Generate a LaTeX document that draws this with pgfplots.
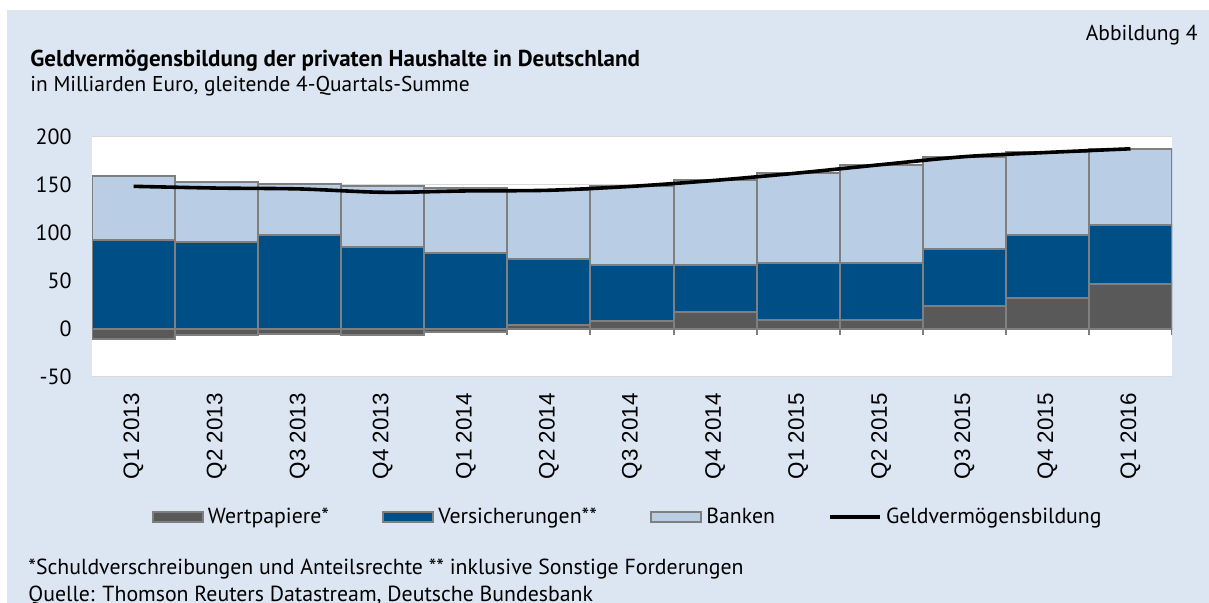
\documentclass[border=0pt]{standalone}
\usepackage{fontspec}
\setmainfont{PT Sans}
\newfontfamily\arialfont{Liberation Sans}
\usepackage{pgfplots}
\usepackage{pgfplotstable}
\pgfplotsset{compat=1.18}

\definecolor{bgblue}{HTML}{DCE6F2}
\definecolor{wpgray}{HTML}{595959}
\definecolor{versblue}{HTML}{004E86}
\definecolor{bankblue}{HTML}{B9CDE5}
\definecolor{edgegray}{HTML}{7F7F7F}
\definecolor{gridgray}{HTML}{D9D9D9}

% gleitende 4-Quartals-Summe, Mrd Euro
\pgfplotstableread{
q  W     V     B     G
0  -10.3 93.2  65.7  148.6
1  -6.2  91.0  62.0  146.8
2  -4.8  97.6  53.1  145.9
3  -6.2  85.0  63.6  142.4
4  -2.7  79.5  67.0  143.8
5  4.1   69.2  71.2  144.5
6  8.2   58.9  81.5  148.6
7  17.8  49.3  87.7  154.8
8  9.4   59.8  93.3  162.5
9  9.2   60.0  102.0 171.2
10 24.0  59.6  95.9  179.5
11 32.2  65.7  86.0  183.9
12 46.6  61.3  79.8  187.7
}\gvb

\begin{document}
\begin{tikzpicture}
\useasboundingbox (0,0) rectangle (604.5pt,301.5pt);
\fill[bgblue] (3.5pt,0) rectangle (604.5pt,296.5pt);

\node[anchor=base east, inner sep=0pt, font=\fontsize{10.75}{12}\selectfont] at (599pt,281pt) {Abbildung 4};
\node[anchor=base west, inner sep=0pt, font=\fontsize{11.5}{13}\selectfont\bfseries] at (15pt,268pt)
  {Geldvermögensbildung der privaten Haushalte in Deutschland};
\node[anchor=base west, inner sep=0pt, font=\fontsize{10.7}{12}\selectfont] at (15pt,255.5pt)
  {in Milliarden Euro, gleitende 4-Quartals-Summe};
\node[anchor=base west, inner sep=0pt, font=\fontsize{10.9}{12}\selectfont] at (14pt,14pt)
  {*Schuldverschreibungen und Anteilsrechte ** inklusive Sonstige Forderungen};
\node[anchor=base west, inner sep=0pt, font=\fontsize{10.9}{12}\selectfont] at (14pt,0.5pt)
  {Quelle: Thomson Reuters Datastream, Deutsche Bundesbank};

\begin{axis}[
  at={(46pt,113pt)}, anchor=south west,
  width=540pt, height=120pt, scale only axis,
  ybar stacked, bar width=1,
  reverse stacked plots=false,
  xmin=-0.5, xmax=12.5, ymin=-50, ymax=200,
  ytick={-50,0,...,200},
  xtick={0,...,12},
  xticklabels={Q1 2013,Q2 2013,Q3 2013,Q4 2013,Q1 2014,Q2 2014,Q3 2014,Q4 2014,Q1 2015,Q2 2015,Q3 2015,Q4 2015,Q1 2016},
  axis background/.style={fill=white},
  axis line style={draw=none},
  major tick length=0pt,
  ymajorgrids, grid style={gridgray, line width=0.5pt},
  extra y ticks={0}, extra y tick labels={},
  extra y tick style={grid style={edgegray, line width=1pt}},
  /pgf/number format/assume math mode=true,
  yticklabel style={font=\fontsize{11}{13}\selectfont, inner sep=0pt, xshift=-10pt},
  xticklabel style={font=\arialfont\fontsize{11.2}{13}\selectfont, inner sep=0pt, yshift=-8pt, rotate=90, anchor=east},
  legend columns=4,
  legend cell align=left,
  legend style={at={(0.497,-0.583)}, anchor=center, draw=none, fill=none,
    font=\fontsize{10.9}{12}\selectfont,
    /tikz/every even column/.append style={column sep=24.7pt}},
  bar legend/.style={legend image code/.code={\draw[##1, line width=1pt] (0pt,-2.5pt) rectangle (25pt,2.5pt);}},
]
\addplot[fill=wpgray, draw=edgegray, line width=1pt, bar legend] table[x=q, y expr={max(\thisrow{W},0)}] {\gvb};
\addplot[fill=versblue, draw=edgegray, line width=1pt, bar legend] table[x=q, y=V] {\gvb};
\addplot[fill=bankblue, draw=edgegray, line width=1pt, bar legend] table[x=q, y=B] {\gvb};
\addplot[ybar, stack plots=false, bar width=1, fill=wpgray, draw=edgegray, line width=1pt, forget plot]
  table[x=q, y expr={min(\thisrow{W},0)}] {\gvb};
\addplot[stack plots=false, smooth, black, line width=1.8pt, mark=none,
  legend image code/.code={\draw[black, line width=1.8pt] (0pt,0pt) -- (25pt,0pt);}]
  table[x=q, y=G] {\gvb};
\pgfplotsinvokeforeach{-0.5,0.5,...,12.5}{
  \draw[edgegray, line width=1pt] (axis cs:#1,0) -- ([yshift=-3pt]axis cs:#1,0);
}
\legend{Wertpapiere*,Versicherungen**,Banken,Geldvermögensbildung}
\end{axis}
\end{tikzpicture}
\end{document}
